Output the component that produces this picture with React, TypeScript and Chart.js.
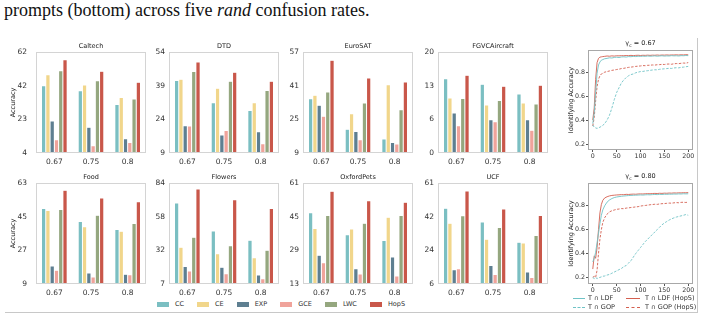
import React, { useEffect, useRef } from "react";
import { Chart, registerables } from "chart.js";

Chart.register(...registerables);

const FONT = "'DejaVu Sans', sans-serif";
const TICK_COLOR = "#333333";

const RATES = ["0.67", "0.75", "0.8"];
const METHODS = ["CC", "CE", "EXP", "GCE", "LWC", "HopS"];
const METHOD_COLORS = ["#7bbfc2", "#f1d68b", "#5e7f91", "#f0a39b", "#95a77f", "#c9574a"];

// rows: CC, CE, EXP, GCE, LWC, HopS ; columns follow RATES
const CALTECH = [[42.6, 39.8, 31.8], [48.9, 43.0, 35.8], [22.4, 18.8, 12.2], [11.6, 8.2, 10.1], [51.2, 45.5, 35.0], [57.6, 51.0, 44.7]];
const DTD = [[41.3, 31.4, 27.9], [41.9, 37.8, 31.4], [21.1, 17.0, 18.5], [21.0, 19.0, 13.1], [45.3, 41.0, 36.9], [49.6, 45.0, 41.0]];
const EUROSAT = [[34.8, 20.3, 15.6], [36.4, 27.7, 41.4], [31.7, 19.2, 14.0], [26.5, 15.3, 13.3], [38.0, 32.8, 29.6], [53.1, 44.6, 42.8]];
const FGVC = [[14.7, 13.6, 11.7], [10.9, 9.5, 9.9], [7.9, 6.6, 6.6], [5.4, 6.2, 4.5], [10.8, 10.4, 9.7], [15.4, 13.2, 13.4]];
const FOOD = [[49.3, 42.4, 38.1], [48.3, 39.6, 37.2], [18.6, 14.9, 14.2], [16.3, 12.7, 14.0], [48.8, 45.8, 41.3], [59.1, 55.0, 53.0]];
const FLOWERS = [[68.8, 47.5, 40.4], [35.1, 30.0, 27.0], [20.4, 19.7, 13.8], [16.9, 14.8, 11.0], [42.7, 36.1, 32.8], [79.4, 71.3, 64.5]];
const OXFORDPETS = [[46.9, 36.4, 33.7], [39.4, 39.1, 44.7], [26.7, 20.3, 25.8], [23.1, 17.7, 16.8], [45.5, 41.9, 45.5], [57.1, 52.6, 51.8]];
const UCF = [[47.3, 39.7, 28.8], [39.1, 30.4, 28.3], [13.8, 16.1, 12.5], [14.3, 11.2, 9.6], [43.1, 36.8, 32.4], [56.7, 46.9, 43.3]];

const CALTECH_TICKS = [4, 23, 42, 62];
const DTD_TICKS = [9, 24, 39, 54];
const EUROSAT_TICKS = [9, 25, 41, 57];
const FGVC_TICKS = [0, 6, 13, 20];
const FOOD_TICKS = [9, 27, 45, 63];
const FLOWERS_TICKS = [7, 32, 58, 84];
const OXFORDPETS_TICKS = [13, 29, 45, 61];
const UCF_TICKS = [6, 24, 42, 61];

// identifying-accuracy curves
const EPOCHS = [0, 3, 6, 9, 12, 15, 18, 21, 25, 30, 35, 40, 45, 50, 55, 60, 65, 70, 75, 80, 85, 90, 95, 100, 105, 110, 115, 120, 125, 130, 135, 140, 145, 150, 155, 160, 165, 170, 175, 180, 185, 190, 195, 200];
const G67_LDF = [0.37, 0.46, 0.63, 0.79, 0.86, 0.885, 0.9, 0.905, 0.912, 0.915, 0.92, 0.918, 0.923, 0.925, 0.922, 0.927, 0.928, 0.926, 0.93, 0.929, 0.932, 0.93, 0.933, 0.931, 0.934, 0.932, 0.935, 0.933, 0.934, 0.936, 0.933, 0.935, 0.937, 0.934, 0.936, 0.935, 0.938, 0.936, 0.937, 0.935, 0.938, 0.937, 0.939, 0.938];
const G67_LDF_HOPS = [0.4, 0.5, 0.74, 0.88, 0.915, 0.925, 0.928, 0.93, 0.932, 0.935, 0.933, 0.936, 0.934, 0.937, 0.936, 0.938, 0.937, 0.939, 0.938, 0.94, 0.938, 0.94, 0.941, 0.939, 0.941, 0.94, 0.942, 0.94, 0.942, 0.941, 0.943, 0.941, 0.943, 0.942, 0.944, 0.942, 0.944, 0.943, 0.945, 0.943, 0.945, 0.944, 0.946, 0.945];
const G67_GOP = [0.36, 0.34, 0.335, 0.33, 0.336, 0.34, 0.348, 0.356, 0.37, 0.4, 0.44, 0.5, 0.57, 0.63, 0.67, 0.71, 0.735, 0.755, 0.77, 0.78, 0.785, 0.795, 0.8, 0.805, 0.806, 0.81, 0.812, 0.815, 0.818, 0.82, 0.819, 0.824, 0.826, 0.828, 0.83, 0.832, 0.831, 0.835, 0.837, 0.836, 0.84, 0.842, 0.845, 0.848];
const G67_GOP_HOPS = [0.35, 0.42, 0.56, 0.68, 0.74, 0.77, 0.785, 0.79, 0.8, 0.805, 0.81, 0.815, 0.818, 0.822, 0.825, 0.83, 0.832, 0.836, 0.84, 0.842, 0.845, 0.848, 0.85, 0.852, 0.855, 0.854, 0.857, 0.858, 0.86, 0.859, 0.862, 0.863, 0.865, 0.864, 0.867, 0.868, 0.866, 0.87, 0.872, 0.871, 0.874, 0.876, 0.875, 0.88];
const G80_LDF = [0.33, 0.36, 0.41, 0.49, 0.57, 0.65, 0.72, 0.765, 0.8, 0.83, 0.848, 0.86, 0.868, 0.873, 0.876, 0.879, 0.881, 0.883, 0.885, 0.886, 0.887, 0.888, 0.889, 0.89, 0.889, 0.891, 0.892, 0.891, 0.893, 0.894, 0.893, 0.895, 0.894, 0.896, 0.895, 0.897, 0.896, 0.898, 0.897, 0.899, 0.898, 0.9, 0.899, 0.9];
const G80_LDF_HOPS = [0.27, 0.38, 0.36, 0.45, 0.6, 0.74, 0.81, 0.845, 0.865, 0.875, 0.882, 0.886, 0.888, 0.89, 0.891, 0.893, 0.892, 0.895, 0.894, 0.896, 0.897, 0.896, 0.898, 0.899, 0.898, 0.9, 0.901, 0.9, 0.902, 0.903, 0.902, 0.904, 0.903, 0.905, 0.904, 0.906, 0.905, 0.907, 0.906, 0.908, 0.907, 0.909, 0.908, 0.91];
const G80_GOP = [0.2, 0.19, 0.2, 0.19, 0.198, 0.2, 0.205, 0.21, 0.212, 0.22, 0.225, 0.235, 0.245, 0.255, 0.265, 0.275, 0.29, 0.3, 0.32, 0.34, 0.37, 0.4, 0.425, 0.45, 0.475, 0.5, 0.52, 0.54, 0.56, 0.58, 0.6, 0.62, 0.64, 0.655, 0.668, 0.68, 0.69, 0.698, 0.705, 0.71, 0.715, 0.72, 0.726, 0.72];
const G80_GOP_HOPS = [0.2, 0.21, 0.2, 0.26, 0.4, 0.52, 0.6, 0.66, 0.7, 0.73, 0.748, 0.758, 0.764, 0.77, 0.772, 0.776, 0.775, 0.78, 0.782, 0.785, 0.787, 0.79, 0.792, 0.797, 0.8, 0.802, 0.805, 0.808, 0.81, 0.812, 0.811, 0.815, 0.817, 0.818, 0.82, 0.822, 0.821, 0.824, 0.826, 0.825, 0.828, 0.829, 0.827, 0.83];

const EPOCH_TICKS = [0, 50, 100, 150, 200];
const ACC_TICKS = [0.2, 0.4, 0.6, 0.8];

const TEAL = "#6fc3c6";
const RED = "#d45f4f";

const LINE_LEGEND = [
  { label: "T \u2229 LDF", color: TEAL, dash: false },
  { label: "T \u2229 LDF (HopS)", color: RED, dash: false },
  { label: "T \u2229 GOP", color: TEAL, dash: true },
  { label: "T \u2229 GOP (HopS)", color: RED, dash: true },
];

function decor(opts: any) {
  return {
    id: "decor",
    afterDraw(chart: any) {
      const { ctx, chartArea: a } = chart;
      ctx.save();
      ctx.strokeStyle = opts.frame;
      ctx.lineWidth = 1;
      ctx.strokeRect(Math.round(a.left) + 0.5, Math.round(a.top) + 0.5, Math.round(a.right - a.left) - 1, Math.round(a.bottom - a.top) - 1);
      ctx.fillStyle = "#222";
      ctx.textBaseline = "middle";
      const cx = (a.left + a.right) / 2;
      const ty = a.top - opts.titleGap;
      if (opts.title) {
        ctx.font = `${opts.titleSize}px ${FONT}`;
        ctx.textAlign = "center";
        ctx.fillText(opts.title, cx, ty);
      }
      if (opts.gamma) {
        const main = `${opts.titleSize}px ${FONT}`;
        const sub = `${opts.titleSize * 0.7}px ${FONT}`;
        ctx.textAlign = "left";
        ctx.font = main;
        const w1 = ctx.measureText("\u03b3").width;
        const w3 = ctx.measureText(" = " + opts.gamma).width;
        ctx.font = sub;
        const w2 = ctx.measureText("c").width;
        let x = cx - (w1 + w2 + w3) / 2;
        ctx.font = main;
        ctx.fillText("\u03b3", x, ty);
        x += w1;
        ctx.font = sub;
        ctx.fillText("c", x, ty + 2);
        x += w2;
        ctx.font = main;
        ctx.fillText(" = " + opts.gamma, x, ty);
      }
      if (opts.yLabel) {
        ctx.font = `${opts.yLabelSize}px ${FONT}`;
        ctx.textAlign = "center";
        ctx.translate(a.left - opts.yLabelGap, (a.top + a.bottom) / 2);
        ctx.rotate(-Math.PI / 2);
        ctx.fillText(opts.yLabel, 0, 0);
      }
      ctx.restore();
    },
  };
}

function ChartBox({ left, top, width, height, make }: any) {
  const ref = useRef<HTMLCanvasElement>(null);
  useEffect(() => {
    const chart = make(ref.current as HTMLCanvasElement);
    return () => chart.destroy();
  }, []);
  return <canvas ref={ref} width={width} height={height} style={{ position: "absolute", left, top, width, height }} />;
}

const BAR_COL_LEFT = [36, 169, 303, 438];
const BAR_ROW_TOP = [52, 183];
const BOX_W = 110;
const BOX_H = 101;
const YW = 30;
const PT = 14;
const XH = 16;
const PR = 3;

function BarPanel({ title, values, ticks, col, row }: any) {
  const left = BAR_COL_LEFT[col] - YW;
  const top = BAR_ROW_TOP[row] - PT;
  const width = YW + BOX_W + PR;
  const height = PT + BOX_H + XH;
  const make = (canvas: HTMLCanvasElement) =>
    new Chart(canvas, {
      type: "bar",
      data: {
        labels: RATES,
        datasets: METHODS.map((m, i) => ({
          label: m,
          data: values[i],
          backgroundColor: METHOD_COLORS[i],
          borderColor: "#ffffff",
          borderWidth: 0.5,
          categoryPercentage: 0.7,
          barPercentage: 1,
        })),
      },
      options: {
        animation: false,
        responsive: false,
        devicePixelRatio: 1,
        layout: { padding: { top: PT, right: PR, left: 0, bottom: 0 } },
        plugins: { legend: { display: false }, tooltip: { enabled: false } },
        scales: {
          x: {
            grid: { display: false, drawTicks: false, tickLength: 0 },
            border: { display: false },
            ticks: { font: { family: FONT, size: 7.5 }, color: TICK_COLOR, padding: 5, maxRotation: 0, autoSkip: false },
            afterFit: (s: any) => { s.height = XH; },
          },
          y: {
            min: ticks[0],
            max: ticks[3],
            grid: { display: false, drawTicks: false, tickLength: 0 },
            border: { display: false },
            ticks: {
              font: { family: FONT, size: 7.5 },
              color: TICK_COLOR,
              padding: col === 0 ? 9 : 4,
              callback: (_v: any, i: number) => String(ticks[i]),
            },
            afterBuildTicks: (s: any) => {
              s.ticks = ticks.map((_t: number, i: number) => ({ value: ticks[0] + (i * (ticks[3] - ticks[0])) / 3 }));
            },
            afterFit: (s: any) => { s.width = YW; },
          },
        },
      },
      plugins: [decor({ frame: "#d4d4d4", title, titleSize: 6.5, titleGap: 6, yLabel: col === 0 ? "Accuracy" : null, yLabelSize: 6.5, yLabelGap: 23 })],
    } as any);
  return <ChartBox left={left} top={top} width={width} height={height} make={make} />;
}

const L_YW = 28;
const L_PT = 12;
const L_XH = 12;
const L_PR = 5;
const L_BOX_W = 105;

function LinePanel({ gamma, series, boxTop, boxH, yMin, yMax }: any) {
  const left = 588 - L_YW;
  const top = boxTop - L_PT;
  const width = L_YW + L_BOX_W + L_PR;
  const height = L_PT + boxH + L_XH;
  const styles = [
    { color: TEAL, dash: [] },
    { color: TEAL, dash: [2.5, 1.5] },
    { color: RED, dash: [] },
    { color: RED, dash: [2.5, 1.5] },
  ];
  const make = (canvas: HTMLCanvasElement) =>
    new Chart(canvas, {
      type: "line",
      data: {
        datasets: series.map((ys: number[], i: number) => ({
          data: EPOCHS.map((x, j) => ({ x, y: ys[j] })),
          borderColor: styles[i].color,
          borderDash: styles[i].dash,
          borderWidth: 0.9,
          pointRadius: 0,
          tension: 0,
          fill: false,
        })),
      },
      options: {
        animation: false,
        responsive: false,
        devicePixelRatio: 1,
        layout: { padding: { top: L_PT, right: L_PR, left: 0, bottom: 0 } },
        plugins: { legend: { display: false }, tooltip: { enabled: false } },
        scales: {
          x: {
            type: "linear",
            min: -10,
            max: 210,
            grid: { display: true, drawOnChartArea: false, drawTicks: true, tickLength: 2, color: "#555" },
            border: { display: false },
            ticks: { font: { family: FONT, size: 6.3 }, color: TICK_COLOR, padding: 1, maxRotation: 0, autoSkip: false },
            afterBuildTicks: (s: any) => { s.ticks = EPOCH_TICKS.map((v) => ({ value: v })); },
            afterFit: (s: any) => { s.height = L_XH; },
          },
          y: {
            min: yMin,
            max: yMax,
            grid: { display: true, drawOnChartArea: false, drawTicks: true, tickLength: 2, color: "#555" },
            border: { display: false },
            ticks: { font: { family: FONT, size: 6.3 }, color: TICK_COLOR, padding: 1, callback: (v: any) => Number(v).toFixed(1) },
            afterBuildTicks: (s: any) => { s.ticks = ACC_TICKS.map((v) => ({ value: v })); },
            afterFit: (s: any) => { s.width = L_YW; },
          },
        },
      },
      plugins: [decor({ frame: "#a8a8a8", gamma, titleSize: 6.5, titleGap: 6.5, yLabel: "Identifying Accuracy", yLabelSize: 6.5, yLabelGap: 17 })],
    } as any);
  return <ChartBox left={left} top={top} width={width} height={height} make={make} />;
}

export default function App() {
  const legendFont = { fontFamily: FONT, fontSize: 6.5, color: "#333" } as any;
  return (
    <div style={{ position: "absolute", left: 0, top: 0, width: 704, height: 320, background: "#fff", overflow: "hidden" }}>
      <div style={{ position: "absolute", left: 4, top: 0, fontFamily: "'Liberation Serif', serif", fontSize: 18, lineHeight: "21px", whiteSpace: "nowrap", color: "#111" }}>
        prompts (bottom) across five <i>rand</i> confusion rates.
      </div>

      <BarPanel title="Caltech" values={CALTECH} ticks={CALTECH_TICKS} col={0} row={0} />
      <BarPanel title="DTD" values={DTD} ticks={DTD_TICKS} col={1} row={0} />
      <BarPanel title="EuroSAT" values={EUROSAT} ticks={EUROSAT_TICKS} col={2} row={0} />
      <BarPanel title="FGVCAircraft" values={FGVC} ticks={FGVC_TICKS} col={3} row={0} />
      <BarPanel title="Food" values={FOOD} ticks={FOOD_TICKS} col={0} row={1} />
      <BarPanel title="Flowers" values={FLOWERS} ticks={FLOWERS_TICKS} col={1} row={1} />
      <BarPanel title="OxfordPets" values={OXFORDPETS} ticks={OXFORDPETS_TICKS} col={2} row={1} />
      <BarPanel title="UCF" values={UCF} ticks={UCF_TICKS} col={3} row={1} />

      <LinePanel gamma="0.67" series={[G67_LDF, G67_GOP, G67_LDF_HOPS, G67_GOP_HOPS]} boxTop={50} boxH={100} yMin={0.15} yMax={0.985} />
      <LinePanel gamma="0.80" series={[G80_LDF, G80_GOP, G80_LDF_HOPS, G80_GOP_HOPS]} boxTop={183} boxH={101} yMin={0.145} yMax={0.99} />

      <div style={{ position: "absolute", left: 157, top: 300, display: "flex", alignItems: "center", gap: 13, ...legendFont, lineHeight: "8px" }}>
        {METHODS.map((m, i) => (
          <div key={m} style={{ display: "flex", alignItems: "center" }}>
            <span style={{ display: "inline-block", width: 12, height: 5, background: METHOD_COLORS[i], marginRight: 6 }} />
            <span>{m}</span>
          </div>
        ))}
      </div>

      {LINE_LEGEND.map((e, i) => {
        const c = i % 2;
        const r = Math.floor(i / 2);
        const hx = c === 0 ? 573 : 626;
        const tx = c === 0 ? 588 : 645;
        const y = r === 0 ? 298 : 307;
        return (
          <React.Fragment key={e.label}>
            <div style={{ position: "absolute", left: hx, top: y, width: c === 0 ? 12 : 14, height: 0, borderTop: `1px ${e.dash ? "dashed" : "solid"} ${e.color}` }} />
            <div style={{ position: "absolute", left: tx, top: y - 4, ...legendFont, lineHeight: "8px", whiteSpace: "nowrap" }}>{e.label}</div>
          </React.Fragment>
        );
      })}

      <div style={{ position: "absolute", left: 5, top: 312, width: 693, height: 0, borderTop: "1.5px solid #c8c8c8" }} />
      <div style={{ position: "absolute", left: 697, top: 38, width: 0, height: 275, borderLeft: "1.5px solid #c8c8c8" }} />
    </div>
  );
}
